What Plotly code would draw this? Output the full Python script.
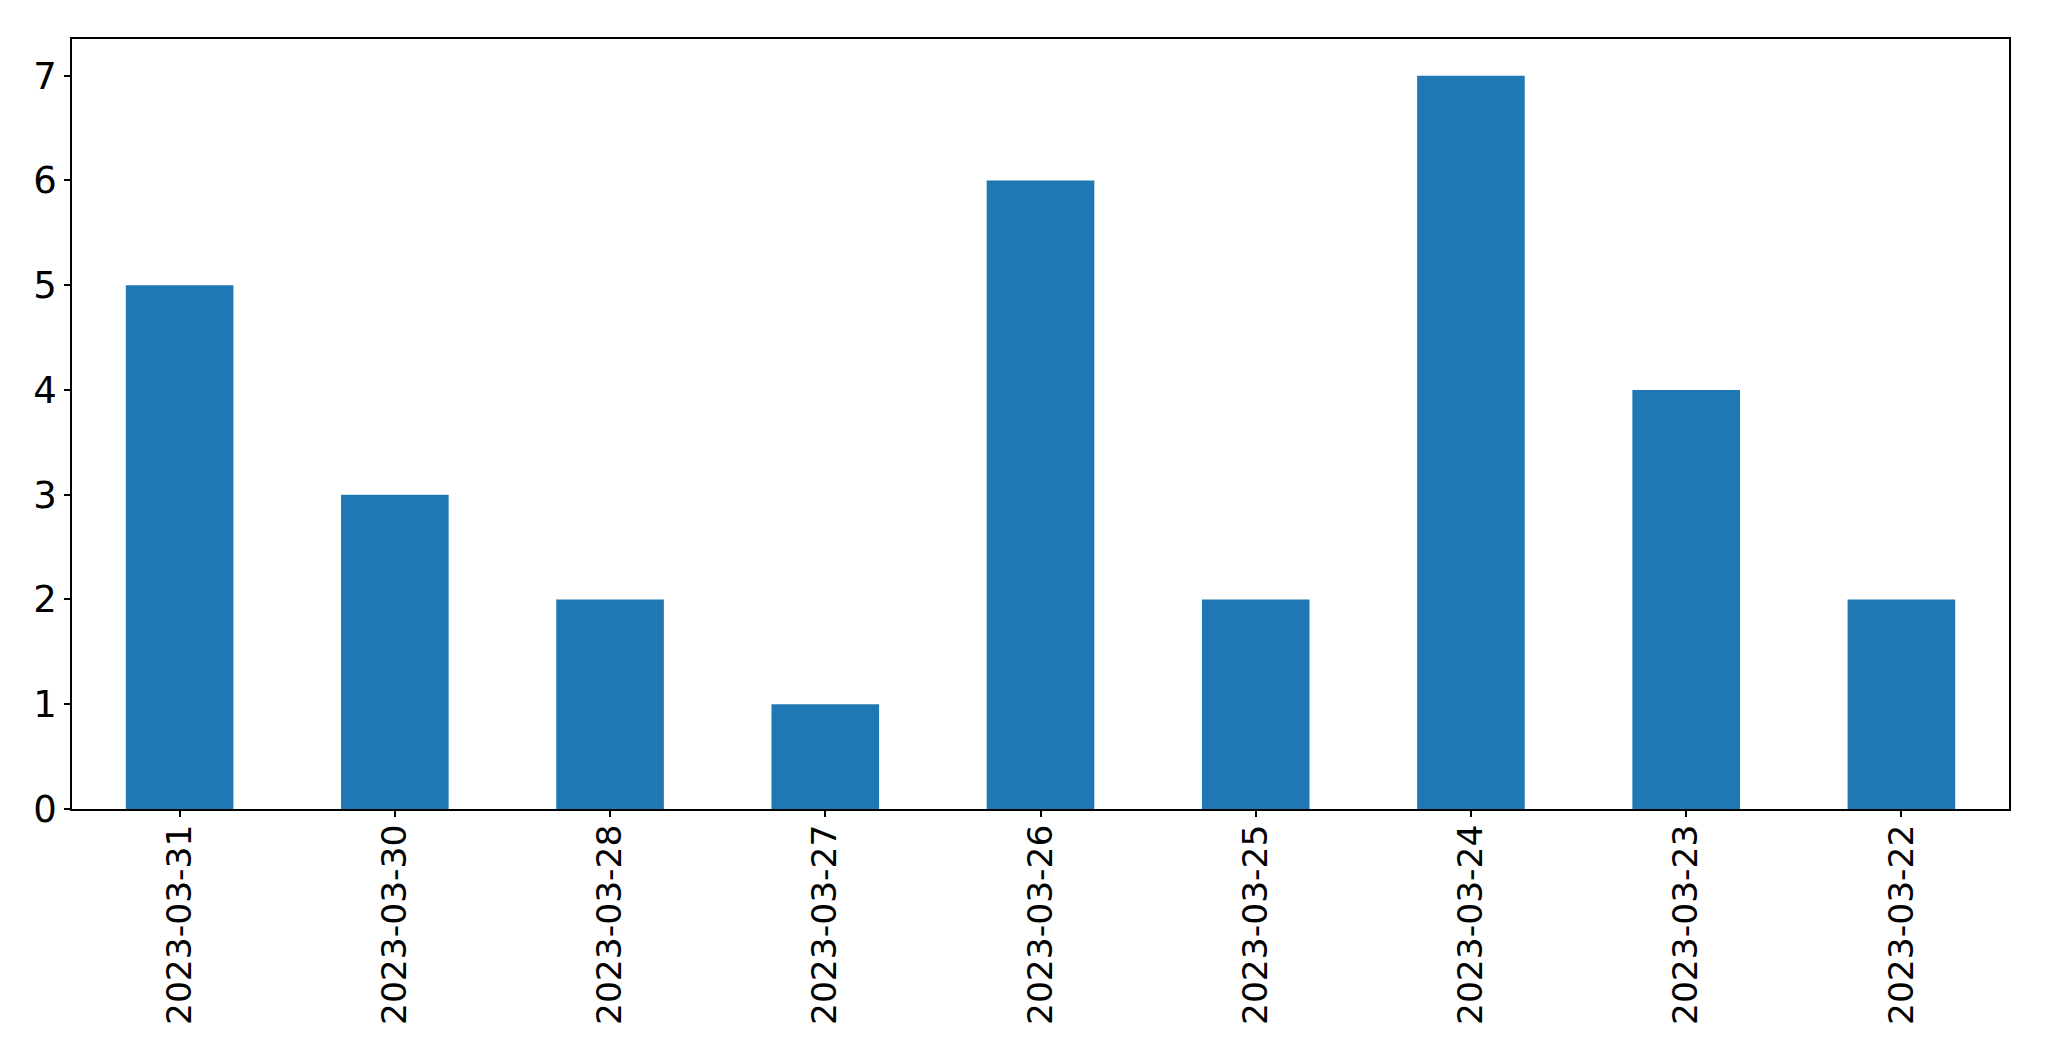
import plotly.graph_objects as go

dates = ["2023-03-31", "2023-03-30", "2023-03-28", "2023-03-27", "2023-03-26",
         "2023-03-25", "2023-03-24", "2023-03-23", "2023-03-22"]
counts = [5, 3, 2, 1, 6, 2, 7, 4, 2]
y_ticks = [0, 1, 2, 3, 4, 5, 6, 7]

fig = go.Figure(go.Bar(x=dates, y=counts, marker=dict(color="#1f77b4", line=dict(width=0)), width=0.5))

xfont = dict(family="DejaVu Sans", size=34.5, color="black")
yfont = dict(family="DejaVu Sans", size=37, color="black")
fig.update_layout(
    width=2049, height=1061,
    margin=dict(l=72, r=40, t=39, b=252),
    paper_bgcolor="white", plot_bgcolor="white",
    showlegend=False, font=xfont,
)
fig.update_xaxes(type="category", range=[-0.5, 8.5], tickangle=-90,
                 showline=True, linecolor="black", linewidth=1.5, mirror=True,
                 ticks="outside", ticklen=6, tickcolor="black", tickwidth=1.5,
                 ticklabelstandoff=-6,
                 showgrid=False, tickfont=xfont)
fig.update_yaxes(range=[0, 7.35], tickvals=y_ticks,
                 showline=True, linecolor="black", linewidth=1.5, mirror=True,
                 ticks="outside", ticklen=6, tickcolor="black", tickwidth=1.5,
                 showgrid=False, zeroline=False, tickfont=yfont)
fig.write_html("out.html")
